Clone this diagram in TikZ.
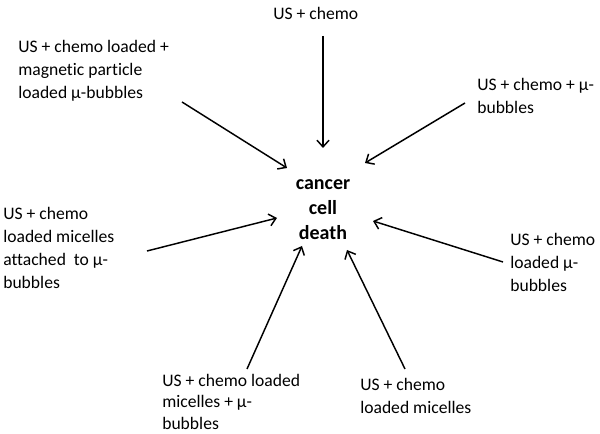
\documentclass[tikz,border=0pt]{standalone}
\usepackage{fontspec}
\setmainfont{Carlito}[Ligatures=NoCommon]
\usetikzlibrary{arrows.meta}
\begin{document}
\begin{tikzpicture}[x=0.75pt,y=-0.75pt,
	every node/.style={inner sep=0pt,align=left,font=\fontsize{13.2}{17.25}\selectfont},
	lab/.style={anchor=north west},
	pointer/.style={-{Straight Barb[length=5pt,width=9pt]},line width=1.1pt}]
	\useasboundingbox (0,0) rectangle (600,434);
	\node[anchor=north,align=center,font=\bfseries\fontsize{15}{19}\selectfont,name=death] at (323,179) {cancer\\cell\\death};
	\node[lab,name=L1] at (273,7) {US + chemo};
	\node[lab,name=L2] at (18,40) {US + chemo loaded +\\magnetic particle\\loaded µ-bubbles};
	\node[lab,name=L3] at (477,78) {US + chemo + µ-\\bubbles};
	\node[lab,name=L4] at (3,207) {US + chemo\\loaded micelles\\attached\ \ to µ-\\bubbles};
	\node[lab,name=L5] at (510,233) {US + chemo\\loaded µ-\\bubbles};
	\node[lab,name=L6,font=\fontsize{13.2}{16}\selectfont] at (162,374) {US + chemo loaded\\micelles + µ-\\bubbles};
	\node[lab,name=L7] at (360,378) {US + chemo\\loaded micelles};
	\foreach \sx/\sy/\tx/\ty [count=\i] in {323/36/323/148,182/102/287/168,465/103/365/163,147/251/277/218,503/262/373/221,247/369/302/246,405/369/347/250}{
		\coordinate (s\i) at (\sx,\sy);
		\coordinate (t\i) at (\tx,\ty);
	}
	\foreach \i in {1,...,7}{
		\draw[pointer] (s\i)--(t\i);
	};
\end{tikzpicture}
\end{document}
